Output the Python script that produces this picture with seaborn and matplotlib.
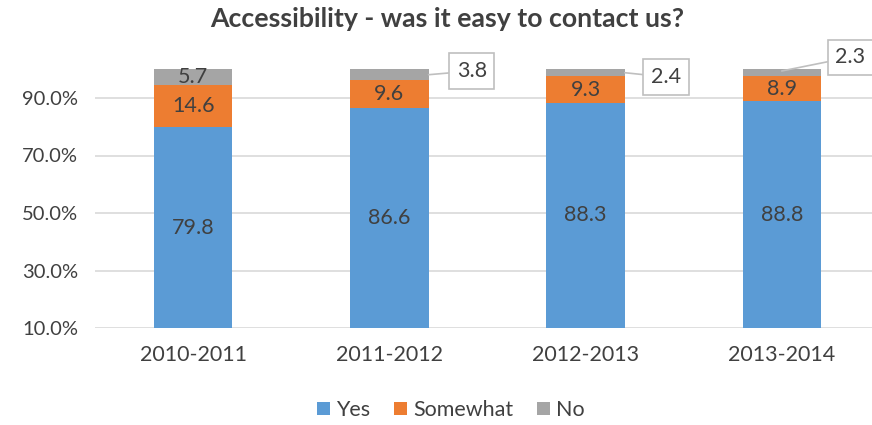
import matplotlib
matplotlib.use("Agg")
import matplotlib.pyplot as plt
import seaborn as sns
import pandas as pd
import numpy as np
from matplotlib.patches import Patch

periods = ["2010-2011", "2011-2012", "2012-2013", "2013-2014"]
yes = [79.8, 86.6, 88.3, 88.8]
somewhat = [14.6, 9.6, 9.3, 8.9]
no = [5.7, 3.8, 2.4, 2.3]
series_names = ["Yes", "Somewhat", "No"]
yticks = [10, 30, 50, 70, 90]

colors = {"Yes": "#5B9BD5", "Somewhat": "#ED7D31", "No": "#A5A5A5"}
text_color = "#404040"

sns.set_theme(style="white")
plt.rcParams["font.family"] = ["Lato", "DejaVu Sans"]

df = pd.DataFrame({"period": periods, "Yes": yes, "Somewhat": somewhat, "No": no})
df["c_yes"] = df["Yes"]
df["c_some"] = df["Yes"] + df["Somewhat"]
df["c_no"] = df["c_some"] + df["No"]

fig = plt.figure(figsize=(8.72, 4.25), dpi=100)
ax = fig.add_axes([95 / 872, 1 - 328 / 425, 1 - 95 / 872, (328 - 69.25) / 425])

for col, name in [("c_no", "No"), ("c_some", "Somewhat"), ("c_yes", "Yes")]:
    sns.barplot(data=df, x="period", y=col, color=colors[name], width=0.4,
                saturation=1, ax=ax, zorder=3, linewidth=0)

ax.set_ylim(10, 100)
ax.set_xlim(-0.5, 3.46)
ax.set_yticks(yticks)
ax.set_yticklabels([f"{v:.1f}%" for v in yticks])
ax.yaxis.grid(True, color="#d9d9d9", linewidth=1.2, zorder=0)
ax.set_axisbelow(True)
for s in ax.spines.values():
    s.set_visible(False)
ax.set_xlabel("")
ax.set_ylabel("")
ax.tick_params(axis="both", length=0, colors=text_color)
ax.tick_params(axis="y", labelsize=14.5, pad=12)
ax.tick_params(axis="x", labelsize=15.5, pad=12)

fs = 15.5
for i in range(len(periods)):
    y0 = yes[i]
    ax.text(i, (10 + y0) / 2, f"{y0}", ha="center", va="center", fontsize=fs, color=text_color, zorder=5)
    ax.text(i, y0 + somewhat[i] / 2, f"{somewhat[i]}", ha="center", va="center", fontsize=fs, color=text_color, zorder=5)
    if i == 0:
        ax.text(i, y0 + somewhat[i] + no[i] / 2, f"{no[i]}", ha="center", va="center",
                fontsize=fs, color=text_color, zorder=5)

callouts = {1: ((1.42, 99.4), (1.2, 98.1)),
            2: ((2.41, 97.3), (2.2, 98.8)),
            3: ((3.35, 104.2), (3.0, 99.4))}
for i, (tpos, target) in callouts.items():
    ax.annotate(f"{no[i]}", xy=target, xytext=tpos, ha="center", va="center",
                fontsize=fs, color=text_color, annotation_clip=False, zorder=6,
                bbox=dict(boxstyle="square,pad=0.35", fc="white", ec="#bfbfbf", lw=1.2),
                arrowprops=dict(arrowstyle="-", color="#bfbfbf", lw=1.2,
                                shrinkA=0, shrinkB=0))

fig.text(0.513, 1 - 19 / 425, "Accessibility - was it easy to contact us?", ha="center",
         va="center", fontsize=19.2, fontweight="bold", color=text_color)

handles = [Patch(facecolor=colors[n], edgecolor="none", label=n) for n in series_names]
fig.legend(handles=handles, loc="center", bbox_to_anchor=(0.517, 1 - 410 / 425), ncol=3,
           frameon=False, fontsize=15.5, handlelength=0.6, handleheight=0.6,
           handletextpad=0.3, columnspacing=1.1, labelcolor=text_color)

fig.savefig("out.png", dpi=100)
